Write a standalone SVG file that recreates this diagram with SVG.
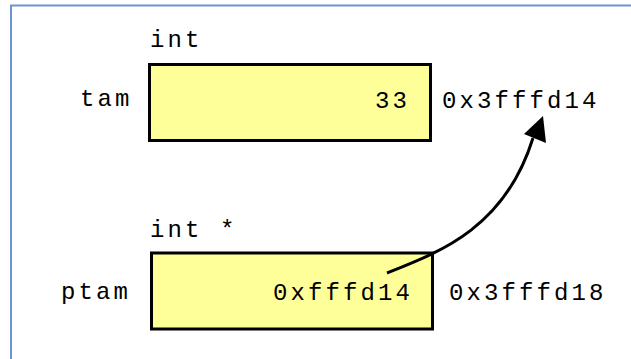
<svg xmlns="http://www.w3.org/2000/svg" width="631" height="359" viewBox="0 0 631 359">
<style>
.t{font-family:"Liberation Mono","Courier New",monospace;font-size:24px;letter-spacing:3.1px;fill:#000}
.box{fill:#FFFF99;stroke:#000;stroke-width:3}
.frame{stroke:#6B95D1;stroke-width:2;fill:none}
.conn{fill:none;stroke:#000;stroke-width:3}
</style>
<rect width="631" height="359" fill="#fff"/>
<path class="frame" d="M11,359 V5.5 H631"/>
<g id="tam">
<text class="t" x="150" y="47">int</text>
<text class="t" x="80" y="106">tam</text>
<rect class="box" x="149.5" y="64.5" width="281" height="76"/>
<text class="t" x="375" y="108">33</text>
<text class="t" x="442" y="108">0x3fffd14</text>
</g>
<g id="ptam">
<text class="t" x="150" y="237">int *</text>
<text class="t" x="61" y="299">ptam</text>
<rect class="box" x="151.5" y="253" width="281" height="76"/>
<text class="t" x="273" y="300">0xfffd14</text>
<text class="t" x="449" y="300">0x3fffd18</text>
</g>
<g id="connectors">
<path class="conn" d="M387,273 C440,252 505,228 533,138"/>
<polygon points="543,116 524,134 546,143" fill="#000"/>
</g>
</svg>
